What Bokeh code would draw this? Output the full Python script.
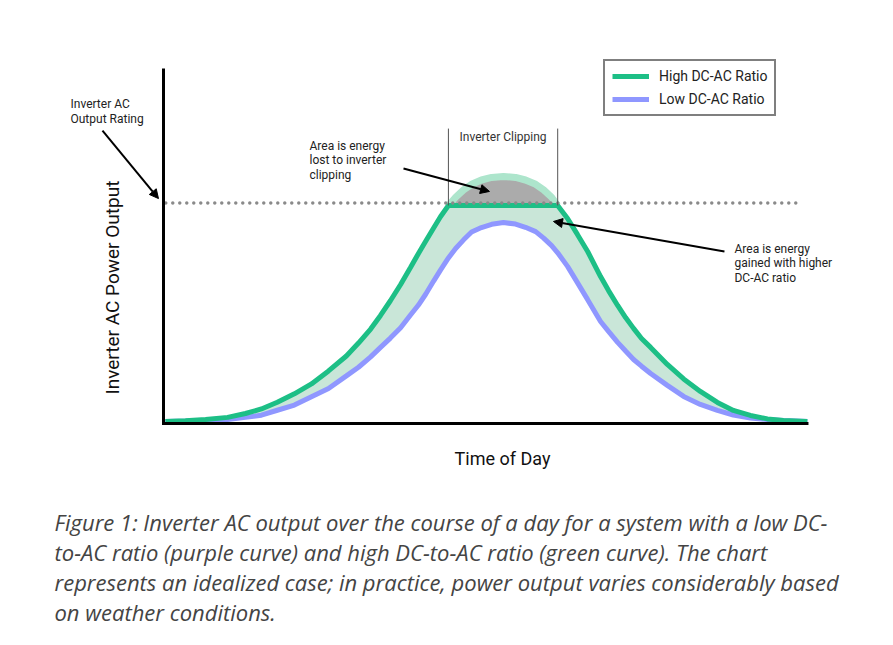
import numpy as np
from bokeh.plotting import figure
from bokeh.models import Range1d, Label, Arrow, NormalHead, Legend, LegendItem, ColumnDataSource
from bokeh.embed import file_html
from bokeh.resources import INLINE

# ---- values
# x: time of day (hours); y: inverter AC power relative to the inverter AC output rating (= 1.0)
hours = [4.05, 4.58, 5.11, 5.69, 6.16, 6.58, 7.00, 7.45, 7.90, 8.35, 8.82, 9.14, 9.46,
         9.72, 9.98, 10.25, 10.51, 10.72, 10.91, 11.12, 11.30, 11.51, 11.70, 11.91,
         12.12, 12.38, 12.65, 12.96, 13.28, 13.54, 13.81, 14.02, 14.23, 14.39, 14.65,
         14.91, 15.18, 15.52, 15.73, 15.97, 16.18, 16.39, 16.60, 16.84, 17.28, 17.71,
         18.15, 18.60, 19.02, 19.47, 19.92, 20.34, 20.97]
# high DC-AC ratio: what the array could deliver (before clipping)
high_dc_ac = [0.000, 0.003, 0.009, 0.019, 0.037, 0.058, 0.089, 0.128, 0.174, 0.234,
              0.303, 0.363, 0.428, 0.491, 0.559, 0.634, 0.713, 0.778, 0.834, 0.896,
              0.948, 1.000, 1.038, 1.072, 1.098, 1.118, 1.130, 1.134, 1.130, 1.118,
              1.098, 1.072, 1.038, 1.000, 0.940, 0.866, 0.787, 0.671, 0.606, 0.537,
              0.481, 0.431, 0.384, 0.343, 0.264, 0.197, 0.139, 0.088, 0.051, 0.028,
              0.012, 0.005, 0.000]
low_dc_ac = [0.000, 0.002, 0.005, 0.009, 0.019, 0.029, 0.052, 0.076, 0.115, 0.153,
             0.211, 0.251, 0.299, 0.343, 0.386, 0.434, 0.493, 0.539, 0.589, 0.650,
             0.701, 0.757, 0.801, 0.841, 0.877, 0.898, 0.913, 0.921, 0.914, 0.899,
             0.879, 0.849, 0.814, 0.781, 0.718, 0.643, 0.564, 0.463, 0.417, 0.366,
             0.326, 0.287, 0.256, 0.222, 0.167, 0.116, 0.079, 0.051, 0.030, 0.016,
             0.009, 0.005, 0.000]
clip_level = 1.0
series_names = ["High DC-AC Ratio", "Low DC-AC Ratio"]

GREEN = "#1dbf86"
PURPLE = "#8f97ff"
FILL = "#c9e6d8"
HALO = "#ade5cc"
GRAY = "#ababab"
FONT = "Roboto"

x = np.array(hours)
hi = np.array(high_dc_ac)
lo = np.array(low_dc_ac)
hi_clipped = np.minimum(hi, clip_level)
hi_above = np.maximum(hi, clip_level)
halo = np.where(hi >= clip_level - 1e-9, hi, np.nan)

W, H = 890, 640
# full-canvas frame; axes drawn as lines
p = figure(width=W, height=H, output_backend="svg", toolbar_location=None,
           x_range=Range1d(-0.296, 23.162), y_range=Range1d(-1.014, 1.949),
           x_axis_location=None, y_axis_location=None,
           min_border=0, min_border_left=0, min_border_right=0,
           min_border_top=0, min_border_bottom=0)
p.outline_line_color = None
p.grid.visible = False

X0, X1 = 4.0, 21.0          # extent of the time axis
Y0, YTOP = -0.009, 1.634    # extent of the power axis

src = ColumnDataSource(dict(x=x, hi=hi, lo=lo, hic=hi_clipped, hia=hi_above,
                            clip=np.full_like(x, clip_level), halo=halo))

p.varea(x="x", y1="lo", y2="hic", source=src, fill_color=FILL)
p.varea(x="x", y1="clip", y2="hia", source=src, fill_color=GRAY)
p.line(x="x", y="halo", source=src, line_color=HALO, line_width=7)
r_lo = p.line(x="x", y="lo", source=src, line_color=PURPLE, line_width=5)
r_hi = p.line(x="x", y="hic", source=src, line_color=GREEN, line_width=5)

# inverter AC output rating (dotted)
p.line(x=[X0 + 0.06, 20.79], y=[clip_level + 0.011, clip_level + 0.011],
       line_color="#8a8a8a", line_width=3.5, line_dash="0 7", line_cap="round")

# axes
p.line(x=[X0, X0, X1], y=[YTOP, Y0, Y0], line_color="black", line_width=3,
       line_join="miter")

# clipping bracket
clip_idx = np.where(hi >= clip_level - 1e-9)[0]
x_start, x_end = x[clip_idx[0]], x[clip_idx[-1]]
p.segment(x0=[x_start, x_end], y0=[clip_level, clip_level], x1=[x_start, x_end],
          y1=[1.356, 1.356], line_color="#555555", line_width=1)
p.add_layout(Label(x=(x_start + x_end) / 2, y=1.315, text="Inverter Clipping",
                   text_align="center", text_baseline="middle",
                   text_font=FONT, text_font_size="12px", text_color="#333333"))

def note(xv, yv, txt):
    p.add_layout(Label(x=xv, y=yv, text=txt, text_align="left", text_baseline="top",
                       text_font=FONT, text_font_size="12px", text_color="#222222",
                       text_line_height=1.04))

note(1.549, 1.500, "Inverter AC\nOutput Rating")
note(7.848, 1.310, "Area is energy\nlost to inverter\nclipping")
note(19.05, 0.833, "Area is energy\ngained with higher\nDC-AC ratio")

def arrow(x0, y0, x1, y1):
    p.add_layout(Arrow(end=NormalHead(size=9, fill_color="black", line_color="black"),
                       x_start=x0, y_start=y0, x_end=x1, y_end=y1,
                       line_color="black", line_width=2))

arrow(2.392, 1.347, 3.868, 1.032)
arrow(10.326, 1.171, 12.592, 1.065)
arrow(18.786, 0.787, 14.279, 0.926)

# axis titles
p.add_layout(Label(x=2.656, y=0.620, text="Inverter AC Power Output", angle=np.pi / 2,
                   text_align="center", text_baseline="middle", text_font=FONT,
                   text_font_size="19px", text_color="#111111"))
p.add_layout(Label(x=12.935, y=-0.171, text="Time of Day", text_align="center",
                   text_baseline="middle", text_font=FONT, text_font_size="18px",
                   text_color="#111111"))

caption = ("Figure 1: Inverter AC output over the course of a day for a system with a low DC-\n"
           "to-AC ratio (purple curve) and high DC-to-AC ratio (green curve). The chart\n"
           "represents an idealized case; in practice, power output varies considerably based\n"
           "on weather conditions.")
p.add_layout(Label(x=1.127, y=-0.395, text=caption, text_align="left", text_baseline="top",
                   text_font="Open Sans", text_font_size="22px", text_font_style="italic",
                   text_color="#444444", text_line_height=1.0))

legend = Legend(items=[LegendItem(label=series_names[0], renderers=[r_hi]),
                       LegendItem(label=series_names[1], renderers=[r_lo])],
                location=(603, H - 116), border_line_color="black", border_line_width=2,
                padding=7, spacing=7, margin=0, glyph_width=37, glyph_height=12,
                label_height=12, label_standoff=10, label_text_font=FONT,
                label_text_font_size="14px", label_text_color="#222222",
                label_text_baseline="middle", background_fill_alpha=1)
p.add_layout(legend)

open("out.html", "w").write(file_html(p, INLINE))
